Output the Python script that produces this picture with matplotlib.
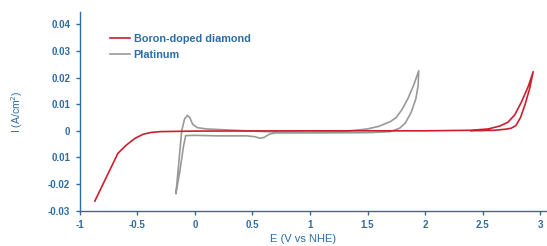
import matplotlib
matplotlib.use("Agg")
import matplotlib.pyplot as plt

plt.rcParams['font.family'] = ['Liberation Sans', 'DejaVu Sans']

BLUE = '#2f6ca3'
RED = '#cc1f2d'
GRAY = '#999999'

# Boron-doped diamond CV loop (E in V vs NHE, I in A/cm^2)
bdd_E = [-0.87, -0.67, -0.60, -0.52, -0.45, -0.38, -0.30, 0.0, 1.0, 2.0, 2.4, 2.55, 2.65, 2.72,
         2.78, 2.84, 2.90, 2.94, 2.91, 2.87, 2.83, 2.79, 2.75, 2.70, 2.60, 2.40]
bdd_I = [-0.0264, -0.0085, -0.0055, -0.0028, -0.0013, -0.0006, -0.0003, -0.0001, 0.0, 0.0, 0.0002,
         0.0007, 0.0018, 0.0032, 0.0060, 0.0110, 0.0170, 0.0222, 0.0160, 0.0100, 0.0050, 0.0020,
         0.0010, 0.0006, 0.0002, 0.0]

# Platinum CV loop
pt_E = [-0.165, -0.14, -0.115, -0.09, -0.065, -0.045, -0.02, 0.02, 0.1, 0.3, 0.6, 1.0, 1.3, 1.5,
        1.6, 1.7, 1.75, 1.8, 1.85, 1.9, 1.945,
        1.94, 1.92, 1.88, 1.83, 1.78, 1.7, 1.5, 1.0, 0.7, 0.65, 0.6, 0.565, 0.52, 0.45, 0.2, 0.0,
        -0.08, -0.10, -0.13, -0.165]
pt_I = [-0.0235, -0.012, 0.0, 0.0045, 0.0058, 0.0050, 0.0025, 0.0012, 0.0007, 0.0003, -0.0003,
        -0.0005, -0.0002, 0.0007, 0.0017, 0.0035, 0.0050, 0.0080, 0.0120, 0.0170, 0.0225,
        0.0170, 0.0120, 0.0070, 0.0030, 0.0010, -0.0003, -0.0007, -0.0008, -0.0008, -0.0012,
        -0.0025, -0.0028, -0.0022, -0.0019, -0.0019, -0.0017, -0.0018, -0.0060, -0.0150, -0.0235]

xticks = [-1, -0.5, 0, 0.5, 1, 1.5, 2, 2.5, 3]
xticklabels = ['-1', '-0.5', '0', '0.5', '1', '1.5', '2', '2.5', '3']
yticks = [0.04, 0.03, 0.02, 0.01, 0, -0.01, -0.02, -0.03]
yticklabels = ['0.04', '0.03', '0.02', '0.01', '0', '0.01', '-0.02', '-0.03']

fig = plt.figure(figsize=(5.47, 2.46), dpi=100)
ax = fig.add_axes([0.146, 0.1435, 0.854, 0.8075])

ax.plot(bdd_E, bdd_I, color=RED, lw=1.2, label='Boron-doped diamond', zorder=3)
ax.plot(pt_E, pt_I, color=GRAY, lw=1.2, label='Platinum', zorder=2)

ax.set_xlim(-1, 3.06)
ax.set_ylim(-0.03, 0.0446)
ax.set_xticks(xticks)
ax.set_xticklabels(xticklabels)
ax.set_yticks(yticks)
ax.set_yticklabels(yticklabels)

for s in ['top', 'right']:
    ax.spines[s].set_visible(False)
for s in ['left', 'bottom']:
    ax.spines[s].set_color(BLUE)
    ax.spines[s].set_linewidth(1.0)

ax.tick_params(axis='both', colors=BLUE, length=3, width=1, labelsize=7)
for lab in ax.get_xticklabels() + ax.get_yticklabels():
    lab.set_fontweight('bold')
    lab.set_color(BLUE)
ax.tick_params(axis='x', pad=4)
ax.tick_params(axis='y', pad=4)

ax.set_xlabel('E (V vs NHE)', color=BLUE, fontsize=8)
ax.set_ylabel('I (A/cm$^2$)', color=BLUE, fontsize=7.5)
ax.xaxis.set_label_coords(0.478, -0.115)
ax.yaxis.set_label_coords(-0.118, 0.5)

leg = ax.legend(loc='upper left', bbox_to_anchor=(0.055, 0.91), frameon=False,
                fontsize=7.8, handlelength=1.9, handletextpad=0.3, labelspacing=0.55,
                borderaxespad=0)
for t in leg.get_texts():
    t.set_color(BLUE)
    t.set_fontweight('bold')

fig.savefig('out.png', dpi=100)
